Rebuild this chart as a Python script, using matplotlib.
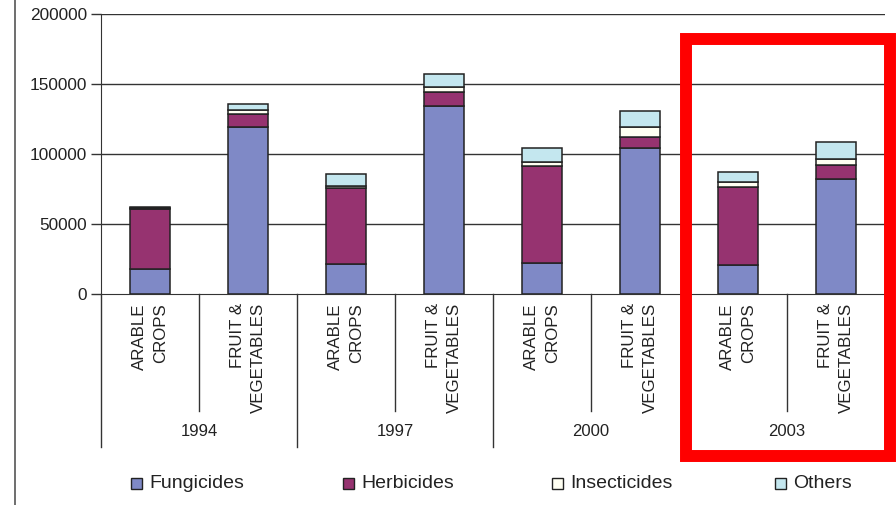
import matplotlib.pyplot as plt
from matplotlib.patches import Rectangle
from matplotlib.transforms import blended_transform_factory
import numpy as np

plt.rcParams["font.family"] = ["Liberation Sans", "DejaVu Sans"]

# ---------------- DATA ----------------
years = ["1994", "1997", "2000", "2003"]
crops = ["ARABLE\nCROPS", "FRUIT &\nVEGETABLES"]

fungicides = [17600, 119500, 21200, 134500, 21900, 104100, 20900, 81900]
herbicides = [42900, 8800, 54300, 10000, 69700, 7800, 55800, 10200]
insecticides = [1000, 3100, 1900, 3600, 2900, 7600, 3500, 4300]
others = [800, 4300, 8300, 9000, 9800, 11400, 7200, 12400]

series_names = ["Fungicides", "Herbicides", "Insecticides", "Others"]
series_colors = ["#7F89C6", "#963370", "#FFFFF2", "#C4E7EF"]

# ---------------- PLOT ----------------
W, H = 896, 505
fig = plt.figure(figsize=(W / 100, H / 100), dpi=100)
ax = fig.add_axes([101 / W, 1 - 294 / H, 784 / W, 280 / H])

n = len(fungicides)
x = np.arange(n) + 0.5
bottom = np.zeros(n)
for vals, color in zip([fungicides, herbicides, insecticides, others], series_colors):
    ax.bar(x, vals, width=0.41, bottom=bottom, color=color,
           edgecolor="#222222", linewidth=1.1, zorder=3)
    bottom += np.array(vals)

ax.set_xlim(0, n)
ax.set_ylim(0, 200000)
ax.set_yticks([0, 50000, 100000, 150000, 200000])
ax.set_yticklabels(["0", "50000", "100000", "150000", "200000"])
ax.tick_params(axis="y", length=7, width=1, color="#333333",
               labelsize=12.4, labelcolor="#222222", pad=3)
ax.set_xticks([])
for yv in [50000, 100000, 150000, 200000]:
    ax.axhline(yv, color="#333333", linewidth=1, zorder=1)

for side in ["top", "right"]:
    ax.spines[side].set_visible(False)
ax.spines["left"].set_color("#333333")
ax.spines["bottom"].set_color("#333333")

# category separators and group labels below the axis
trans = blended_transform_factory(ax.transData, ax.transAxes)
for i in range(n + 1):
    depth = -(447 - 294) / 280 if i % 2 == 0 else -(411 - 294) / 280
    ax.plot([i, i], [0, depth], color="#333333", linewidth=1,
            transform=trans, clip_on=False)

for i in range(n):
    ax.text(x[i], -(303 - 294) / 280, crops[i % 2], transform=trans,
            rotation=90, ha="center", va="top", multialignment="right",
            fontsize=12.2, color="#222222", linespacing=1.45)

for k, yr in enumerate(years):
    ax.text(2 * k + 1, -(432 - 294) / 280, yr, transform=trans,
            ha="center", va="center", fontsize=12, color="#222222")

# left frame line of the chart area
fig.add_artist(plt.Line2D([15 / W, 15 / W], [0, 1], color="#555555",
                          linewidth=1.2))

# legend drawn as individual entries
legend_x = [131, 343, 552, 775]
for lx, name, color in zip(legend_x, series_names, series_colors):
    fig.add_artist(Rectangle((lx / W, 1 - 489 / H), 11 / W, 11 / H,
                             facecolor=color, edgecolor="#222222",
                             linewidth=1, transform=fig.transFigure))
    fig.text((lx + 18) / W, 1 - 483 / H, name, ha="left", va="center",
             fontsize=14, color="#222222")

# red highlight box around 2003
fig.add_artist(Rectangle((685.5 / W, 1 - 456 / H), (889.5 - 685.5) / W,
                         (456 - 39) / H, fill=False, edgecolor="#FF0000",
                         linewidth=8.6, transform=fig.transFigure))

plt.savefig("out.png", dpi=100)
plt.close()
